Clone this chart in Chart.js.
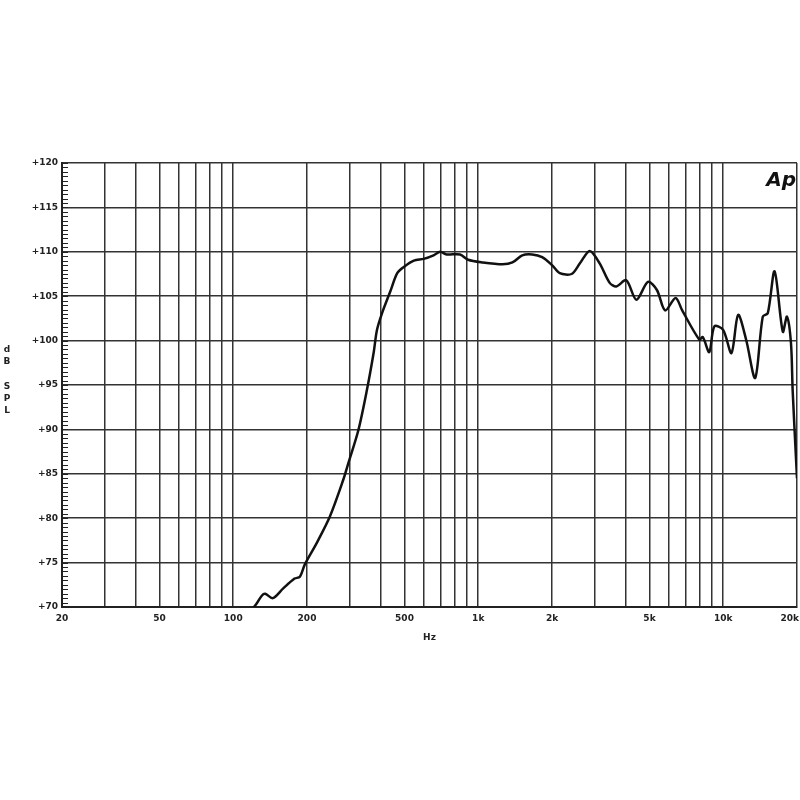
<!DOCTYPE html>
<html>
<head>
<meta charset="utf-8">
<script src="https://cdn.jsdelivr.net/npm/chart.js@4"></script>
<style>
  html, body { margin: 0; padding: 0; background: #fff; }
  #wrap { width: 800px; height: 800px; position: relative; }
</style>
</head>
<body>
<div id="wrap"><canvas id="splChart" width="800" height="800"></canvas></div>
<script>
// frequency response (Hz, dB SPL)
const freqs = [118, 124, 131, 135, 145, 160, 178, 187, 196, 219, 248, 281, 295, 324, 351, 374, 386, 405, 437, 467, 497,
  546, 599, 657, 699, 742, 843, 909, 1044, 1256, 1379, 1512, 1660, 1823, 2000, 2152, 2404, 2600, 2852, 3130, 3440, 3660,
  4020, 4420, 4930, 5360, 5790, 6390, 6800, 7990, 8250, 8770, 9200, 9990, 10800, 11500, 12400, 13500, 14500, 15200,
  16200, 17500, 18200, 18900, 19200, 19800, 20000];
const spl = [69.6, 70.3, 71.3, 71.5, 71.0, 72.1, 73.2, 73.4, 74.8, 77.2, 80.2, 84.3, 86.2, 89.9, 94.4, 98.6, 101.2, 103.1, 105.5, 107.6, 108.3,
  109.0, 109.2, 109.6, 110.0, 109.7, 109.7, 109.1, 108.8, 108.6, 108.8, 109.6, 109.7, 109.4, 108.5, 107.6, 107.5, 108.7, 110.1, 108.7, 106.5, 106.1,
  106.8, 104.6, 106.6, 105.7, 103.4, 104.8, 103.4, 100.1, 100.4, 98.7, 101.6, 101.2, 98.6, 102.9, 100.1, 95.8, 102.7, 103.1,
  107.8, 101.0, 102.7, 99.7, 94.4, 86.9, 84.5];

const gridFreqs = [20, 30, 40, 50, 60, 70, 80, 90, 100, 200, 300, 400, 500, 600, 700, 800, 900,
  1000, 2000, 3000, 4000, 5000, 6000, 7000, 8000, 9000, 10000, 20000];
const freqLabels = { 20: "20", 50: "50", 100: "100", 200: "200", 500: "500", 1000: "1k", 2000: "2k", 5000: "5k", 10000: "10k" };
const lastLabel = "20k";

// small extras: minor ticks on the left edge, the dB SPL letters, the last freq label and the Ap mark
const extras = {
  id: "extras",
  afterDraw(chart) {
    let ctx = chart.ctx;
    let y = chart.scales.y;
    let x = chart.scales.x;
    let left = chart.chartArea.left;
    ctx.save();
    ctx.strokeStyle = "#222";
    ctx.lineWidth = 1;
    for (let v = 70; v <= 120; v += 0.5) {
      let py = Math.round(y.getPixelForValue(v)) + 0.5;
      ctx.beginPath();
      ctx.moveTo(left, py);
      ctx.lineTo(left + 6, py);
      ctx.stroke();
    }
    ctx.fillStyle = "#222";
    ctx.font = "bold 9px 'DejaVu Sans'";
    ctx.textAlign = "center";
    let letters = [["d", 352], ["B", 364], ["S", 389], ["P", 401], ["L", 413]];
    letters.forEach(l => ctx.fillText(l[0], 7, l[1]));
    ctx.textAlign = "right";
    ctx.textBaseline = "top";
    ctx.fillText(lastLabel, 799, chart.chartArea.bottom + 7);
    ctx.textBaseline = "alphabetic";
    ctx.font = "italic bold 20px 'DejaVu Sans'";
    ctx.fillStyle = "#111";
    ctx.fillText("Ap", 796, 186);
    ctx.restore();
  }
};

new Chart(document.getElementById("splChart"), {
  type: "line",
  data: {
    datasets: [{
      data: freqs.map((f, i) => ({ x: f, y: spl[i] })),
      borderColor: "#111",
      borderWidth: 2.5,
      pointRadius: 0,
      tension: 0.3,
      fill: false
    }]
  },
  options: {
    responsive: false,
    animation: false,
    layout: { padding: { left: 0, right: 3, top: 163, bottom: 153 } },
    plugins: { legend: { display: false }, tooltip: { enabled: false } },
    scales: {
      x: {
        type: "logarithmic",
        min: 20,
        max: 20000,
        afterBuildTicks: s => { s.ticks = gridFreqs.map(v => ({ value: v })); },
        afterFit: s => { s.height = 40; s.paddingLeft = 0; s.paddingRight = 0; },
        ticks: {
          autoSkip: false,
          maxRotation: 0,
          padding: 6,
          color: "#222",
          font: { size: 9, family: "DejaVu Sans", weight: "bold" },
          callback: v => freqLabels[v] || ""
        },
        grid: { color: "#333", lineWidth: 1.5, drawTicks: false },
        border: { color: "#222", width: 2 },
        title: { display: true, text: "Hz", color: "#222", padding: { top: 0 }, font: { size: 9, family: "DejaVu Sans", weight: "bold" } }
      },
      y: {
        min: 70,
        max: 120,
        afterFit: s => { s.width = 62; s.paddingTop = 0; s.paddingBottom = 0; },
        ticks: {
          stepSize: 5,
          padding: 4,
          color: "#222",
          font: { size: 9, family: "DejaVu Sans", weight: "bold" },
          callback: v => "+" + v
        },
        grid: { color: "#333", lineWidth: 1.5, drawTicks: false },
        border: { color: "#222", width: 2 }
      }
    }
  },
  plugins: [extras]
});
</script>
</body>
</html>
